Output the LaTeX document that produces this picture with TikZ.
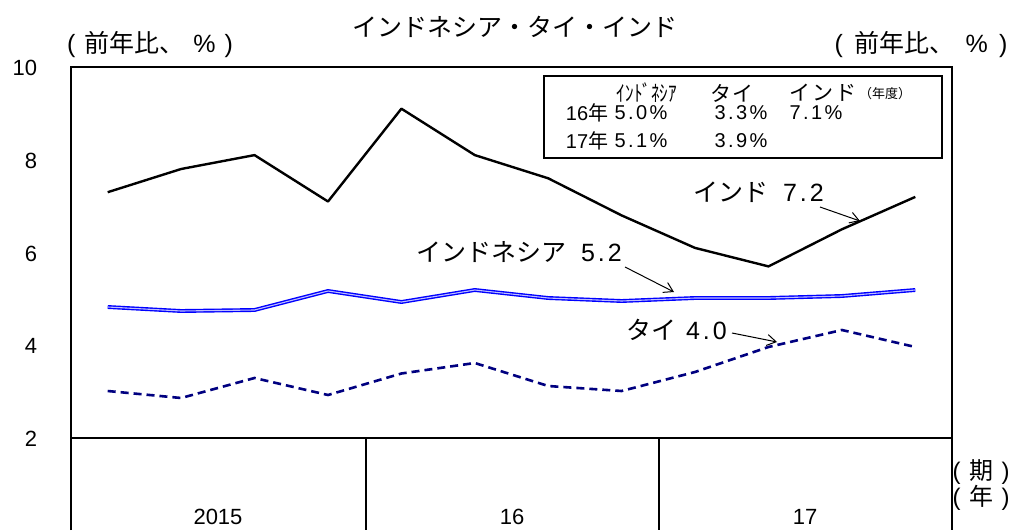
\documentclass[tikz,border=0pt]{standalone}
\usepackage{fontspec}
\setmainfont{Liberation Sans}
\newfontfamily\jp{Noto Sans CJK JP}
\newfontfamily\num[LetterSpace=12]{Liberation Sans}
\usetikzlibrary{arrows.meta}
\definecolor{navyline}{RGB}{0,0,128}
\definecolor{blueline}{RGB}{0,0,255}
\begin{document}
\begin{tikzpicture}[x=1pt,y=-1pt,
  frame/.style={line width=2.6pt},
  thinframe/.style={line width=1.6pt},
  txt/.style={inner sep=0pt,outer sep=0pt},
  ptr/.style={line width=1pt,-{Straight Barb[length=9pt,width=11pt,line width=1pt]}},
  indiaL/.style={line width=2.4pt,line join=round,black},
  indoL/.style={draw=blueline,double=blueline!25!white,line width=1.4pt,double distance=1.1pt,line join=round},
  thaiL/.style={line width=2.6pt,navyline,dash pattern=on 8pt off 5pt,line join=round}]
\useasboundingbox (0,0) rectangle (1014,530);
\fill[white] (0,0) rectangle (1014,530);

% frame
\draw[frame] (71,530) -- (71,67) -- (952,67) -- (952,530);
\draw[frame] (71,438) -- (952,438);
\draw[thinframe] (366,438) -- (366,530) (659,438) -- (659,530);

% title and units
\node[txt] (title) at (515,27) {\jp\fontsize{25}{25}\selectfont インドネシア・タイ・インド};
\node[txt] (unitL) at (150,45) {\fontsize{25}{25}\selectfont\makebox[166pt][s]{(\hfil{\jp 前年比、}\hfil\%\hfil)}};
\node[txt] (unitR) at (921,45) {\fontsize{25}{25}\selectfont\makebox[173pt][s]{(\hfil{\jp 前年比、}\hfil\%\hfil)}};

% y labels
\foreach \v/\y in {10/67,8/160,6/253,4/345,2/438}
  \node[txt,anchor=east] (y\v) at (37,\y+1) {\fontsize{22}{22}\selectfont \v};

% year labels
\node[txt] (yr15) at (218,517) {\fontsize{22}{22}\selectfont 2015};
\node[txt] (yr16) at (512,517) {\fontsize{22}{22}\selectfont 16};
\node[txt] (yr17) at (805,517) {\fontsize{22}{22}\selectfont 17};
\node[txt] (ki) at (981,472) {\fontsize{24}{24}\selectfont\makebox[57pt][s]{(\hfil{\jp 期}\hfil)}};
\node[txt] (nen) at (981,498) {\fontsize{24}{24}\selectfont\makebox[57pt][s]{(\hfil{\jp 年}\hfil)}};

% legend box
\draw[thinframe] (544,76) rectangle (942,158);
\node[txt] (h1) at (647,93) {\scalebox{0.78}[1]{\jp\fontsize{22}{22}\selectfont ｲﾝﾄﾞﾈｼｱ}};
\node[txt] (h2) at (732,93) {\jp\fontsize{21}{21}\selectfont\addfontfeature{LetterSpace=3}タイ};
\node[txt] (h3) at (823,93) {\jp\fontsize{21}{21}\selectfont\addfontfeature{LetterSpace=10}インド};
\node[txt] (h4) at (885,94) {\jp\fontsize{13}{13}\selectfont （年度）};
\node[txt] (r1) at (587,113) {\fontsize{20}{20}\selectfont 16{\jp 年}};
\node[txt] (r1a) at (641,113) {\fontsize{20}{20}\selectfont\num 5.0\%};
\node[txt] (r1b) at (741,113) {\fontsize{20}{20}\selectfont\num 3.3\%};
\node[txt] (r1c) at (816,113) {\fontsize{20}{20}\selectfont\num 7.1\%};
\node[txt] (r2) at (587,141) {\fontsize{20}{20}\selectfont 17{\jp 年}};
\node[txt] (r2a) at (641,141) {\fontsize{20}{20}\selectfont\num 5.1\%};
\node[txt] (r2b) at (741,141) {\fontsize{20}{20}\selectfont\num 3.9\%};

% data lines
\draw[indiaL] (107.7,192.2) -- (181.1,169.0) -- (254.5,155.1) -- (328.0,201.5)
  -- (401.4,108.7) -- (474.8,155.1) -- (548.2,178.3) -- (621.6,215.4)
  -- (695.0,247.9) -- (768.5,266.4) -- (841.9,229.3) -- (915.3,196.9);
\draw[indoL] (107.7,307) -- (181.1,311) -- (254.5,310) -- (328.0,291)
  -- (401.4,302) -- (474.8,290) -- (548.2,298) -- (621.6,301)
  -- (695.0,298) -- (768.5,298) -- (841.9,296) -- (915.3,290);
\draw[thaiL] (107.7,391) -- (181.1,398) -- (254.5,378) -- (328.0,395)
  -- (401.4,373.5) -- (474.8,363) -- (548.2,386) -- (621.6,391)
  -- (695.0,372) -- (768.5,347) -- (841.9,330) -- (915.3,347);

% series labels with pointers
\node[txt,anchor=west] (lIndia) at (693,192) {\fontsize{25}{25}\selectfont{\jp インド}\hspace{15pt}\num 7.2};
\node[txt,anchor=west] (lIndo) at (416,252) {\fontsize{25}{25}\selectfont{\jp インドネシア}\hspace{15pt}\num 5.2};
\node[txt,anchor=west] (lThai) at (626,330) {\fontsize{25}{25}\selectfont{\jp タイ}\hspace{10pt}\num 4.0};
\coordinate (aIndiaS) at (820,207);
\coordinate (aIndiaE) at (860,221);
\coordinate (aIndoS) at (625,267);
\coordinate (aIndoE) at (674,292);
\coordinate (aThaiS) at (732,333);
\coordinate (aThaiE) at (777,342);
\draw[ptr] (aIndiaS) -- (aIndiaE);
\draw[ptr] (aIndoS) -- (aIndoE);
\draw[ptr] (aThaiS) -- (aThaiE);
\end{tikzpicture}
\end{document}
